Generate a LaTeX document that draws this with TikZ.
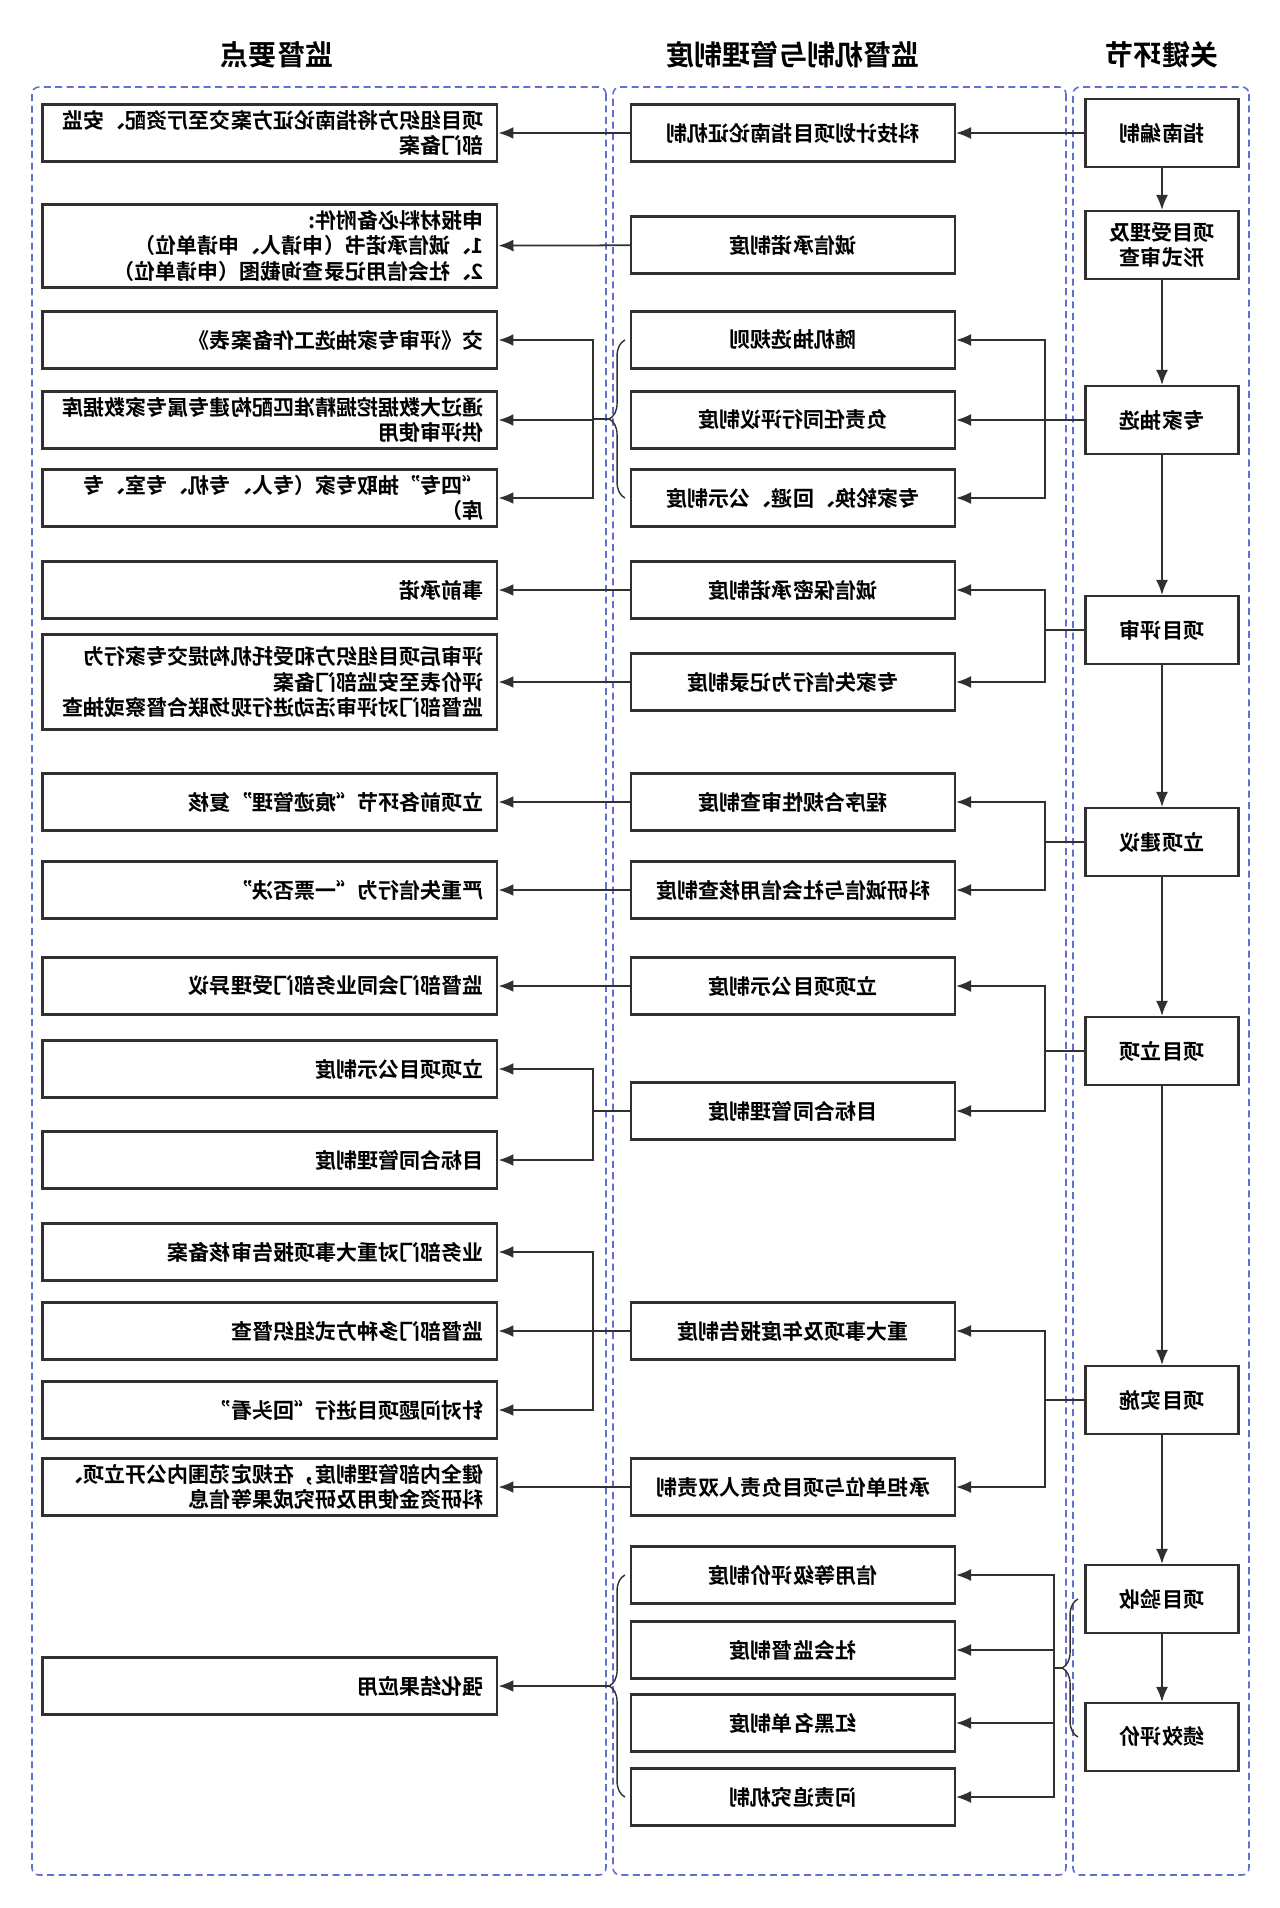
\documentclass[tikz,border=0pt]{standalone}
\usepackage{fontspec}
\setmainfont{Noto Sans CJK SC}[BoldFont={Noto Sans CJK SC Bold}]
\usepackage{xcolor}
\usepackage{tikz}
\usetikzlibrary{arrows.meta, positioning, calc, decorations.pathreplacing}
\definecolor{linegray}{RGB}{48,48,48}
\definecolor{panelblue}{RGB}{98,110,210}
\tikzstyle{keynode} = [rectangle, draw=linegray, line width=1.2pt, minimum width=3.06cm, minimum height=1.36cm, align=center, font=\fontsize{12}{14.5}\selectfont\bfseries]
\tikzstyle{sysnode} = [rectangle, draw=linegray, line width=1.2pt, minimum width=6.48cm, minimum height=1.14cm, align=center, font=\fontsize{12}{14.5}\selectfont\bfseries]
\tikzstyle{ptnode} = [rectangle, draw=linegray, line width=1.2pt, minimum width=9.1cm, minimum height=1.14cm, text width=8.56cm, inner xsep=0.27cm, inner ysep=2pt, align=left, font=\fontsize{12}{14.5}\selectfont\bfseries]
\tikzstyle{header} = [font=\fontsize{16}{18}\selectfont\bfseries]
\tikzstyle{panel} = [draw=panelblue, dash pattern=on 4pt off 2.5pt, line width=0.9pt, rounded corners=4pt]
\tikzstyle{arrow} = [line width=1pt, draw=linegray, -{Latex[length=3mm,width=2.4mm]}]
\tikzstyle{line} = [line width=1pt, draw=linegray]
\tikzstyle{bracket} = [decorate, decoration={brace, amplitude=9pt}, line width=0.8pt, draw=linegray]

\begin{document}
% drawn left to right, then mirrored as a whole
\begin{tikzpicture}[x=0.02cm, y=-0.02cm, xscale=-1, every node/.append style={transform shape}]
\useasboundingbox (0,0) rectangle (1280,1908);

% columns
\draw[panel] (31,87) rectangle (207,1875);
\draw[panel] (214,87) rectangle (667,1875);
\draw[panel] (674,87) rectangle (1248,1875);
\node[header] (hkey) at (118,55) {关键环节};
\node[header] (hsys) at (487,55) {监督机制与管理制度};
\node[header] (hpt) at (1003,55) {监督要点};

% key steps
\node[keynode] (k1) at (118,133) {指南编制};
\node[keynode] (k2) at (118,245) {项目受理及\\形式审查};
\node[keynode] (k3) at (118,420) {专家抽选};
\node[keynode] (k4) at (118,630) {项目评审};
\node[keynode] (k5) at (118,842) {立项建议};
\node[keynode] (k6) at (118,1051) {项目立项};
\node[keynode] (k7) at (118,1400) {项目实施};
\node[keynode] (k8) at (118,1599) {项目验收};
\node[keynode] (k9) at (118,1737) {绩效评价};

% mechanisms
\node[sysnode] (s1) at (487,133) {科技计划项目指南论证机制};
\node[sysnode] (s2) at (487,245) {诚信承诺制度};
\node[sysnode] (s3) at (487,340) {随机抽选规则};
\node[sysnode] (s4) at (487,420) {负责任同行评议制度};
\node[sysnode] (s5) at (487,498) {专家轮换、回避、公示制度};
\node[sysnode] (s6) at (487,590) {诚信保密承诺制度};
\node[sysnode] (s7) at (487,682) {专家失信行为记录制度};
\node[sysnode] (s8) at (487,802) {程序合规性审查制度};
\node[sysnode] (s9) at (487,890) {科研诚信与社会信用核查制度};
\node[sysnode] (s10) at (487,986) {立项项目公示制度};
\node[sysnode] (s11) at (487,1111) {目标合同管理制度};
\node[sysnode] (s12) at (487,1331) {重大事项及年度报告制度};
\node[sysnode] (s13) at (487,1487) {承担单位与项目负责人双责制};
\node[sysnode] (s14) at (487,1575) {信用等级评价制度};
\node[sysnode] (s15) at (487,1650) {社会监督制度};
\node[sysnode] (s16) at (487,1723) {红黑名单制度};
\node[sysnode] (s17) at (487,1797) {问责追究机制};

% supervision points
\node[ptnode] (p1) at (1010,133) {项目组织方将指南论证方案交至厅资配、安监\\部门备案};
\node[ptnode, minimum height=1.66cm] (p2) at (1010,246) {申报材料必备附件:\\1、诚信承诺书（申请人、申请单位）\\2、社会信用记录查询截图（申请单位）};
\node[ptnode] (p3) at (1010,340) {交《评审专家抽选工作备案表》};
\node[ptnode] (p4) at (1010,420) {通过大数据挖掘精准匹配构建专属专家数据库\\供评审使用};
\node[ptnode] (p5) at (1010,498) {“四专”抽取专家（专人、专机、专室、专\\库）};
\node[ptnode] (p6) at (1010,590) {事前承诺};
\node[ptnode, minimum height=1.9cm] (p7) at (1010,682) {评审后项目组织方和受托机构提交专家行为\\评价表至安监部门备案\\监督部门对评审活动进行现场联合督察或抽查};
\node[ptnode] (p8) at (1010,802) {立项前各环节“痕迹管理”复核};
\node[ptnode] (p9) at (1010,890) {严重失信行为“一票否决”};
\node[ptnode] (p10) at (1010,986) {监督部门会同业务部门受理异议};
\node[ptnode] (p11) at (1010,1069) {立项项目公示制度};
\node[ptnode] (p12) at (1010,1160) {目标合同管理制度};
\node[ptnode] (p13) at (1010,1252) {业务部门对重大事项报告审核备案};
\node[ptnode] (p14) at (1010,1331) {监督部门多种方式组织督查};
\node[ptnode] (p15) at (1010,1410) {针对问题项目进行“回头看”};
\node[ptnode] (p16) at (1010,1487) {健全内部管理制度，在规定范围内公开立项、\\科研资金使用及研究成果等信息};
\node[ptnode] (p17) at (1010,1686) {强化结果应用};

% bus lines and brace tips
\coordinate (kbus) at (235,0);
\coordinate (ktip) at (217,1668);
\coordinate (kb2) at (226,1668);
\coordinate (mbus) at (687,0);
\coordinate (mtip1) at (671,419);
\coordinate (mtip2) at (671,1686);

% main flow
\foreach \a/\b in {k1/k2, k2/k3, k3/k4, k4/k5, k5/k6, k6/k7, k7/k8, k8/k9}
    \draw[arrow] (\a) -- (\b);

\draw[arrow] (k1) -- (s1);
\draw[arrow] (k3) -- (s4);
\foreach \k/\a/\b in {k3/s3/s5, k4/s6/s7, k5/s8/s9, k6/s10/s11, k7/s12/s13} {
    \draw[line] (\k.east) -- (kbus |- \k);
    \draw[arrow] (kbus |- \k) |- (\a.west);
    \draw[arrow] (kbus |- \k) |- (\b.west);
}
\draw[bracket] (202,1737) -- (202,1599);
\draw[line] (ktip) -- (kb2);
\foreach \s in {s14, s15, s16, s17}
    \draw[arrow] (kb2) |- (\s.west);

% mechanisms to points
\foreach \a/\b in {s1/p1, s2/p2, s6/p6, s7/p7, s8/p8, s9/p9, s10/p10, s13/p16}
    \draw[arrow] (\a) -- (\b);
\draw[bracket] (655,498) -- (655,340);
\draw[line] (mtip1) -- (mbus |- mtip1);
\foreach \p in {p3, p4, p5}
    \draw[arrow] (mbus |- mtip1) |- (\p.west);
\draw[line] (s11.east) -- (mbus |- s11);
\foreach \p in {p11, p12}
    \draw[arrow] (mbus |- s11) |- (\p.west);
\draw[line] (s12.east) -- (mbus |- s12);
\foreach \p in {p13, p14, p15}
    \draw[arrow] (mbus |- s12) |- (\p.west);
\draw[bracket] (655,1797) -- (655,1575);
\draw[arrow] (mtip2) -- (p17);
\end{tikzpicture}
\end{document}
